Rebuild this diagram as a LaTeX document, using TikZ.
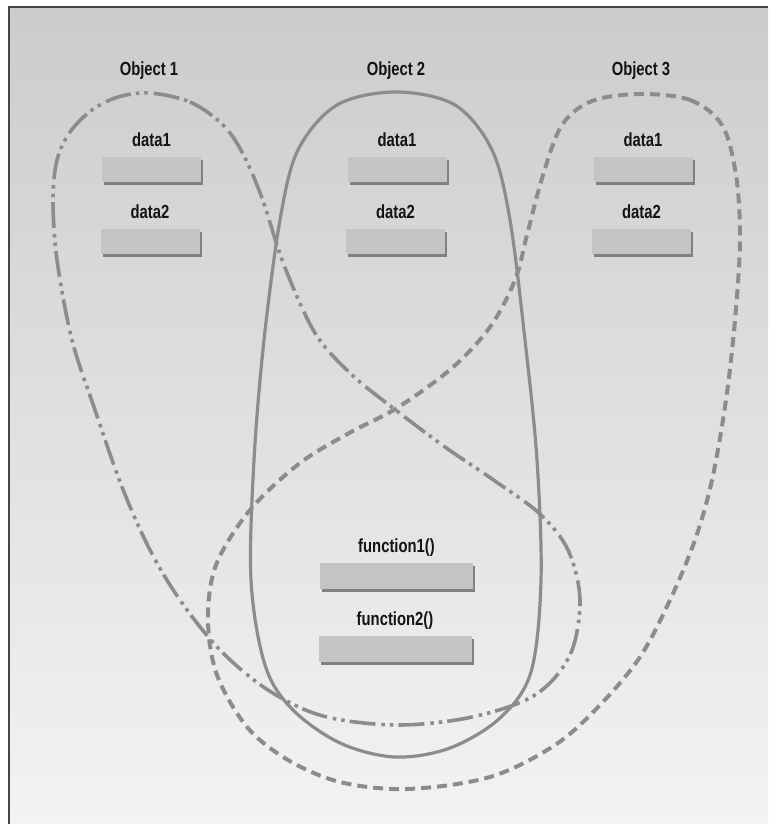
\documentclass[tikz,border=0pt]{standalone}
\usepackage{fontspec}
\newfontfamily\lblfont[FakeStretch=0.78]{Liberation Sans}
\usepackage{xcolor}
\usetikzlibrary{positioning,shadows}
\definecolor{bgtop}{RGB}{204,204,204}
\definecolor{bgbot}{RGB}{243,243,243}
\definecolor{frameclr}{RGB}{70,70,70}
\definecolor{loopclr}{RGB}{140,140,140}
\definecolor{boxfill}{RGB}{196,196,196}
\definecolor{boxshade}{RGB}{128,128,128}
\definecolor{textclr}{RGB}{20,20,20}
\tikzset{
  lbl/.style={font=\lblfont\bfseries\fontsize{19}{22}\selectfont,text=textclr,
              inner sep=0pt,text depth=0pt},
  slot/.style={rectangle,fill=boxfill,minimum width=99pt,minimum height=25pt,
               inner sep=0pt,drop shadow={shadow xshift=2pt,shadow yshift=-3pt,
               opacity=1,fill=boxshade}},
  fslot/.style={slot,minimum width=153pt,minimum height=26pt},
  loopline/.style={draw=loopclr,line width=3.2pt,line join=round},
}

\begin{document}
\begin{tikzpicture}[x=1pt, y=-1pt]
\useasboundingbox (0,0) rectangle (768,824);
\fill[white] (0,0) rectangle (768,824);
\shade[top color=bgtop, bottom color=bgbot] (9,7) rectangle (768,824);
\draw[frameclr, line width=1.5pt] (9,824) -- (9,7) -- (768,7);

% object 1, dash dot dot
\draw[loopline, line width=3.6pt, dash pattern=on 26pt off 5pt on 3.5pt off 5pt on 3.5pt off 6pt]
  plot[smooth cycle, tension=0.55] coordinates {
  (150,93) (190,102) (222,124) (242,152) (262,198) (284,265) (315,333) (351,374)
  (393,408) (445,447) (495,481) (540,514) (568,550) (580,600) (570,655) (535,695)
  (472,717) (397,725) (323,716) (268,690) (220,650) (180,600) (150,550) (122,487)
  (95,410) (72,340) (57,260) (53,200) (57,160) (70,132) (92,110) (118,97)};

% object 2, solid
\draw[loopline] plot[smooth cycle, tension=0.55] coordinates {
  (396,92) (455,105) (492,150) (510,220) (525,340) (537,460) (541,580) (531,672)
  (500,718) (450,748) (395,757) (340,743) (292,709) (265,665) (251,580) (254,460)
  (264,340) (280,220) (298,150) (337,105)};

% object 3, dashed
\draw[loopline, line width=4pt, dash pattern=on 10pt off 6pt]
  plot[smooth cycle, tension=0.55] coordinates {
  (640,94) (690,100) (722,125) (736,175) (740,240) (735,320) (726,400) (712,480)
  (695,540) (670,600) (640,657) (600,705) (555,745) (490,777) (407,789) (340,782)
  (288,760) (247,727) (217,675) (208,620) (216,565) (250,510) (300,463) (351,432)
  (397,408) (452,368) (490,327) (515,280) (527,235) (543,175) (562,125) (592,101)};

\node[lbl, anchor=base] (obj1) at (149,76) {Object 1};
\node[lbl, anchor=base] (obj2) at (396,76) {Object 2};
\node[lbl, anchor=base] (obj3) at (641,76) {Object 3};

\node[slot] (o1d1) at (151.5,169.5) {};
\node[slot] (o1d2) at (150,241.5) {};
\node[slot] (o2d1) at (397,169.5) {};
\node[slot] (o2d2) at (395.5,241.5) {};
\node[slot] (o3d1) at (643,169.5) {};
\node[slot] (o3d2) at (641.5,241.5) {};
\node[lbl, above=10pt of o1d1] (o1d1lbl) {data1};
\node[lbl, above=10pt of o1d2] (o1d2lbl) {data2};
\node[lbl, above=10pt of o2d1] (o2d1lbl) {data1};
\node[lbl, above=10pt of o2d2] (o2d2lbl) {data2};
\node[lbl, above=10pt of o3d1] (o3d1lbl) {data1};
\node[lbl, above=10pt of o3d2] (o3d2lbl) {data2};

\node[fslot] (fn1) at (396.5,576) {};
\node[fslot] (fn2) at (395,649) {};
\node[lbl, above=10pt of fn1] (fn1lbl) {function1()};
\node[lbl, above=10pt of fn2] (fn2lbl) {function2()};
\end{tikzpicture}
\end{document}
